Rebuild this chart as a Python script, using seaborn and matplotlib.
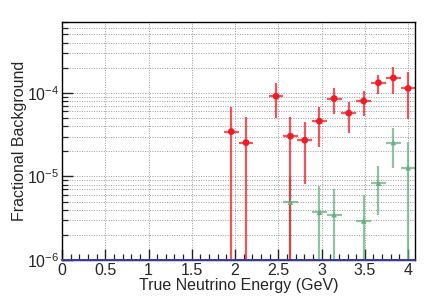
import numpy as np
import pandas as pd
import seaborn as sns
import matplotlib
matplotlib.use("Agg")
import matplotlib.pyplot as plt
from matplotlib.ticker import MultipleLocator, LogLocator, LogFormatterMathtext

# bin centres (GeV) and half bin width
bin_half = 0.0855
red_x = [1.957, 2.127, 2.474, 2.640, 2.806, 2.975, 3.145, 3.314, 3.487, 3.657, 3.830, 4.000]
red_y = [3.44e-5, 2.54e-5, 9.1e-5, 3.03e-5, 2.71e-5, 4.58e-5, 8.55e-5, 5.71e-5, 8.0e-5, 1.32e-4, 1.51e-4, 1.13e-4]
red_lo = [0, 0, 5.06e-5, 0, 8.06e-6, 2.27e-5, 5.56e-5, 3.35e-5, 5.26e-5, 9.73e-5, 9.7e-5, 4.84e-5]
red_hi = [6.85e-5, 5.1e-5, 1.31e-4, 5.1e-5, 4.54e-5, 6.85e-5, 1.14e-4, 7.87e-5, 1.06e-4, 1.63e-4, 2.03e-4, 1.80e-4]

green_x = [2.640, 2.975, 3.145, 3.487, 3.657, 3.830, 4.000]
green_y = [4.91e-6, 3.72e-6, 3.49e-6, 2.93e-6, 8.3e-6, 2.54e-5, 1.27e-5]
green_lo = [0, 0, 0, 0, 3.5e-6, 1.27e-5, 0]
green_hi = [9.96e-6, 7.7e-6, 7.0e-6, 6.0e-6, 1.34e-5, 3.84e-5, 2.61e-5]

y_min, y_max = 1e-6, 7.1e-4

sns.set_style("ticks")
plt.rcParams['font.family'] = ['Liberation Sans', 'DejaVu Sans']
plt.rcParams['mathtext.default'] = 'regular'

fig = plt.figure(figsize=(4.41, 2.99), dpi=100)
ax = fig.add_axes([0.1406, 0.1304, 0.8005, 0.797])
ax.set_yscale('log')

red = pd.DataFrame({'x': red_x, 'y': red_y})
green = pd.DataFrame({'x': green_x, 'y': green_y})


def draw(df, lo, hi, color, marker, ms):
    y = df['y'].to_numpy()
    low = np.clip(np.array(lo), 1e-9, None)
    yerr = [y - low, np.array(hi) - y]
    ax.errorbar(df['x'], y, xerr=bin_half, yerr=yerr, fmt='none',
                ecolor=color, elinewidth=1.6, alpha=0.75, zorder=3)
    sns.scatterplot(data=df, x='x', y='y', ax=ax, color=color, marker=marker,
                    s=ms, edgecolor='none', zorder=4, legend=False)


draw(green, green_lo, green_hi, '#6aae80', '^', 16)
draw(red, red_lo, red_hi, '#ee1c24', 'o', 24)

ax.set_xlim(0, 4.08)
ax.set_ylim(y_min, y_max)

ax.xaxis.set_major_locator(MultipleLocator(0.5))
ax.xaxis.set_minor_locator(MultipleLocator(0.1))
ax.yaxis.set_major_locator(LogLocator(base=10))
ax.yaxis.set_minor_locator(LogLocator(base=10, subs=np.arange(2, 10)))
ax.yaxis.set_major_formatter(LogFormatterMathtext())
ax.yaxis.set_minor_formatter(plt.NullFormatter())
ax.xaxis.set_major_formatter(plt.FuncFormatter(lambda v, p: f"{v:g}"))

ax.tick_params(which='both', direction='in', top=False, right=False,
               labelsize=11.5, color='#222222', pad=2)
ax.tick_params(which='major', length=8, width=1.0)
ax.tick_params(which='minor', length=4, width=0.9)

ax.grid(True, which='major', axis='x', color='#9a9a9a', lw=0.7, ls=(0, (1, 1.5)))
ax.grid(True, which='both', axis='y', color='#9a9a9a', lw=0.7, ls=(0, (1, 1.5)))

for s in ax.spines.values():
    s.set_color('black')
    s.set_linewidth(1.0)
    s.set_zorder(6)

# zero-valued histogram along the bottom
ax.axhline(y_min, color='#3a3aa8', lw=1.4, zorder=7, clip_on=False)

ax.set_xlabel('True Neutrino Energy (GeV)', fontsize=11.5, labelpad=0)
ax.set_ylabel('Fractional Background', fontsize=11.5, labelpad=0)

fig.savefig('out.png', dpi=100)
